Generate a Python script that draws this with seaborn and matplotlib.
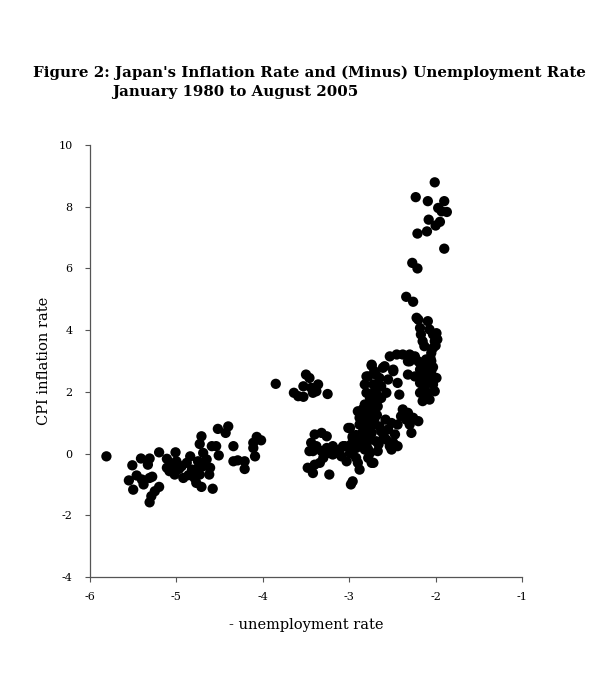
import matplotlib
matplotlib.use("Agg")
import matplotlib.pyplot as plt
import seaborn as sns
import pandas as pd

# minus unemployment rate (x) and CPI inflation rate (y)
neg_unemp = [
    # 2000s, left cloud
    -5.81, -5.51, -5.41, -5.31, -5.33, -5.55, -5.46, -5.40, -5.31, -5.50,
    -5.38, -5.29, -5.31, -5.25, -5.20, -5.20, -5.11, -5.11, -5.01, -5.00,
    -5.02, -5.08, -4.94, -4.92, -4.84, -4.82, -4.79, -4.75, -4.71, -4.73,
    -4.69, -4.69, -4.73, -4.71, -4.77, -4.65, -4.61, -4.62, -4.59, -4.58,
    -4.54, -4.51, -4.52, -4.43, -4.40, -4.34, -4.34, -4.29, -4.21, -4.21,
    -4.11, -4.09, -4.07, -4.02, -4.11, -5.05, -4.97, -4.88, -4.80, -4.86,
    -4.76, -5.28,
    # 1997 group
    -3.85, -3.50, -3.46, -3.53, -3.64, -3.59, -3.53, -3.42, -3.36, -3.38,
    -3.25, -3.44,
    # mid 1990s
    -3.40, -3.32, -3.26, -3.44, -3.38, -3.42, -3.32, -3.26, -3.23, -3.19,
    -3.11, -3.07, -3.09, -3.01, -2.96, -2.98, -2.99, -3.03, -2.92, -2.90,
    -2.88, -2.78, -2.74, -3.48, -3.40, -3.34, -3.42, -3.23, -2.96, -2.98,
    -3.15, -3.46, -3.30, -3.19, -2.88, -2.84, -2.80, -2.76,
    # main cloud
    -2.74, -2.61, -2.49, -2.78, -2.69, -2.55, -2.44, -2.82, -2.72, -2.63,
    -2.80, -2.69, -2.57, -2.42, -2.72, -2.63, -2.82, -2.74, -2.67, -2.90,
    -2.80, -2.72, -2.88, -2.78, -2.71, -2.88, -2.80, -2.72, -2.65, -2.99,
    -2.84, -2.74, -2.63, -2.55, -2.51, -2.96, -2.88, -2.76, -2.69, -2.57,
    -2.47, -2.49, -2.44, -3.05, -2.92, -2.82, -2.76, -2.67, -2.53, -2.51,
    -2.72, -2.78,
    -2.76, -2.70, -2.84, -2.76, -2.68, -2.86, -2.78, -2.92, -2.84, -2.66,
    -2.60, -2.58, -2.86, -2.94, -2.80, -2.70,
    -2.38, -2.32, -2.40, -2.34, -2.26, -2.20, -2.30, -2.28, -2.44,
    -2.30, -2.18, -2.09, -2.05, -2.17, -2.32, -2.24, -2.18, -2.13, -2.03,
    -2.18, -2.09, -2.15, -2.07, -2.01, -1.99,
    -2.20, -2.09, -2.18, -2.07, -2.17, -2.03, -2.15, -2.01, -2.13, -2.03,
    -2.05, -2.53, -2.45, -2.38, -2.30, -2.24, -2.32, -2.20, -2.11, -2.74,
    -2.80, -2.71, -2.59, -2.49, -2.65, -2.18,
    -2.05, -2.03, -2.08, -2.12, -2.00, -2.06, -1.99, -1.98, -2.14, -2.10,
    -2.04, -2.16,
    # early 1980s
    -2.01, -2.23, -2.09, -1.90, -1.97, -1.93, -1.87, -2.08, -1.95, -2.00,
    -2.10, -2.21, -1.90, -2.27, -2.21, -2.34, -2.26, -2.22,
]
cpi_inflation = [
    -0.09, -0.38, -0.16, -0.16, -0.36, -0.87, -0.71, -0.84, -0.79, -1.17,
    -1.00, -1.38, -1.58, -1.22, -1.08, 0.04, -0.17, -0.46, 0.04, -0.25,
    -0.68, -0.57, -0.41, -0.79, -0.09, -0.52, -0.79, -0.25, 0.56, 0.31,
    0.02, -0.41, -0.68, -1.08, -0.95, -0.19, -0.46, -0.68, 0.24, -1.14,
    0.24, -0.06, 0.80, 0.67, 0.88, 0.24, -0.25, -0.22, -0.25, -0.50,
    0.18, -0.09, 0.54, 0.43, 0.35, -0.35, -0.50, -0.30, -0.60, -0.70,
    -0.50, -0.75,
    2.26, 2.56, 2.45, 2.18, 1.97, 1.86, 1.84, 1.97, 2.24, 2.02,
    1.93, 2.13,
    0.62, 0.67, 0.56, 0.35, 0.24, 0.08, 0.08, 0.18, 0.02, -0.03,
    0.13, 0.24, -0.09, 0.83, 0.56, 0.29, 0.02, -0.25, -0.14, -0.30,
    -0.52, 0.13, -0.30, -0.46, -0.36, -0.30, -0.63, -0.68, -0.90, -1.00,
    0.02, 0.08, -0.14, 0.24, 0.24, 0.45, 0.67, 0.88,
    2.85, 2.78, 2.67, 2.50, 2.56, 2.40, 2.29, 2.24, 2.24, 2.18,
    1.97, 1.97, 1.97, 1.91, 1.75, 1.80, 1.59, 1.53, 1.53, 1.37,
    1.32, 1.32, 1.16, 1.10, 1.10, 0.94, 0.88, 0.94, 0.88, 0.83,
    0.72, 0.67, 0.72, 0.78, 0.99, 0.51, 0.45, 0.45, 0.40, 0.45,
    0.62, 0.35, 0.24, 0.24, 0.18, 0.13, 0.02, 0.08, 0.24, 0.13,
    -0.30, -0.14,
    1.80, 1.65, 1.45, 1.20, 1.25, 1.05, 0.75, 0.60, 0.55, 0.30,
    0.55, 1.10, 0.30, 0.35, 0.25, 2.05,
    1.43, 1.32, 1.21, 1.10, 1.16, 1.05, 0.94, 0.67, 0.94,
    2.99, 2.94, 2.88, 2.67, 2.61, 2.56, 2.50, 2.29, 2.18, 2.24,
    1.97, 1.97, 1.70, 1.75, 2.02, 2.45,
    4.34, 4.29, 4.07, 4.02, 3.86, 3.86, 3.64, 3.64, 3.48, 3.42,
    3.26, 3.15, 3.21, 3.21, 3.21, 3.15, 2.99, 2.99, 3.05, 2.88,
    2.50, 2.67, 2.83, 2.72, 2.45, 2.72,
    3.00, 2.80, 2.40, 2.60, 3.50, 3.10, 3.90, 3.70, 2.10, 1.85,
    2.30, 2.40,
    8.79, 8.31, 8.18, 8.18, 7.96, 7.85, 7.83, 7.58, 7.51, 7.39,
    7.20, 7.13, 6.64, 6.18, 6.00, 5.08, 4.92, 4.40,
]

x_ticks = [-6, -5, -4, -3, -2, -1]
y_ticks = [-4, -2, 0, 2, 4, 6, 8, 10]

df = pd.DataFrame({"neg_unemp": neg_unemp, "cpi": cpi_inflation})

sns.set_style("white")
plt.rcParams["font.family"] = ["DejaVu Serif"]
plt.rcParams["text.color"] = "black"
plt.rcParams["axes.labelcolor"] = "black"
plt.rcParams["xtick.color"] = "black"
plt.rcParams["ytick.color"] = "black"

fig = plt.figure(figsize=(6.02, 6.76), dpi=100)
ax = fig.add_axes([90 / 602, 1 - 577 / 676, 432 / 602, 432 / 676])

sns.scatterplot(data=df, x="neg_unemp", y="cpi", ax=ax, color="black",
                s=55, edgecolor="none", linewidth=0)

ax.set_xlim(-6, -1)
ax.set_ylim(-4, 10)
ax.set_xticks(x_ticks)
ax.set_yticks(y_ticks)
ax.set_xticklabels([str(t) for t in x_ticks], fontsize=8)
ax.set_yticklabels([str(t) for t in y_ticks], fontsize=8)
ax.tick_params(axis="both", direction="out", length=3.5, width=0.8,
               color="#555555", left=True, bottom=True)
ax.tick_params(axis="x", pad=7)
ax.tick_params(axis="y", pad=9)
for side in ["top", "right"]:
    ax.spines[side].set_visible(False)
for side in ["left", "bottom"]:
    ax.spines[side].set_color("#555555")
    ax.spines[side].set_linewidth(0.9)

ax.set_xlabel("- unemployment rate", fontsize=10.5, labelpad=12)
ax.set_ylabel("CPI inflation rate", fontsize=10.5, labelpad=5)

fig.text(33 / 602, 1 - 73 / 676,
         "Figure 2: Japan's Inflation Rate and (Minus) Unemployment Rate",
         fontsize=10.8, fontweight="bold", ha="left", va="center")
fig.text(112 / 602, 1 - 92 / 676, "January 1980 to August 2005",
         fontsize=10.8, fontweight="bold", ha="left", va="center")

fig.savefig("out.png", dpi=100, facecolor="white")
